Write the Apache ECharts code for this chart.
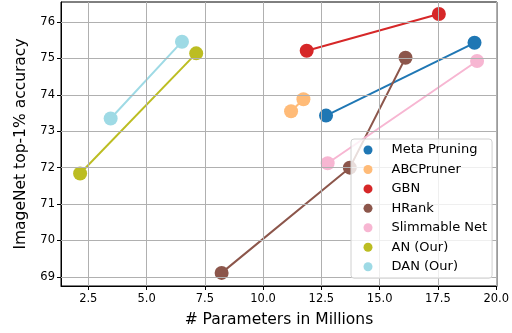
<!DOCTYPE html>
<html><head><meta charset="utf-8">
<script src="https://cdn.jsdelivr.net/npm/echarts@6/dist/echarts.min.js"></script>
<style>html,body{margin:0;padding:0;background:#fff}#c{width:512px;height:333px}</style>
</head><body><div id="c"></div>
<script>
const seriesNames = ['Meta Pruning','ABCPruner','GBN','HRank','Slimmable Net','AN (Our)','DAN (Our)'];
const colors = ['#1f77b4','#ffbb78','#d62728','#8c564b','#f7b6d2','#bcbd22','#9edae5'];
const metaPruning = [[12.70,73.43],[19.07,75.43]];
const abcPruner = [[11.20,73.55],[11.73,73.88]];
const gbn = [[11.87,75.21],[17.54,76.22]];
const hrank = [[8.22,69.11],[13.72,72.0],[16.11,75.02]];
const slimmable = [[12.77,72.12],[19.18,74.93]];
const an = [[2.15,71.84],[7.13,75.14]];
const dan = [[3.46,73.35],[6.52,75.46]];
const xTicks = [2.5,5.0,7.5,10.0,12.5,15.0,17.5,20.0];
const yTicks = [69,70,71,72,73,74,75,76];
const allData = [metaPruning,abcPruner,gbn,hrank,slimmable,an,dan];

const font = 'DejaVu Sans';
const series = allData.map((d,i)=>({
  name: seriesNames[i], type:'line', data:d, symbol:'circle', symbolSize:14,
  showSymbol:true, z:3,
  itemStyle:{color:colors[i]}, lineStyle:{color:colors[i],width:2},
  emphasis:{disabled:true}, animation:false
}));
series.unshift({
  type:'line', data:[], z:1, silent:true, animation:false,
  markLine:{silent:true, symbol:'none', label:{show:false}, animation:false,
    lineStyle:{color:'#b0b0b0', width:1, type:'solid'},
    emphasis:{disabled:true},
    data: xTicks.map(v=>({xAxis:v})).concat(yTicks.map(v=>({yAxis:v})))
  }
});
const chart = echarts.init(document.getElementById('c'));
chart.setOption({
  animation:false,
  grid:{left:61, right:13, top:2, bottom:47, show:true, borderColor:'#000', borderWidth:1, backgroundColor:'transparent'},
  xAxis:{type:'value', min:1.33, max:20.03,
    name:'# Parameters in Millions', nameLocation:'middle', nameGap:26,
    nameTextStyle:{fontFamily:font, fontSize:15.5, color:'#000'},
    axisLine:{show:true, lineStyle:{color:'#000'}},
    axisTick:{show:true, inside:false, length:4, lineStyle:{color:'#000'}, customValues:xTicks},
    axisLabel:{fontFamily:font, fontSize:11.5, color:'#000', margin:7, customValues:xTicks, formatter:v=>v.toFixed(1)},
    splitLine:{show:false}
  },
  yAxis:{type:'value', min:68.75, max:76.55,
    name:'ImageNet top-1% accuracy', nameLocation:'middle', nameGap:32,
    nameTextStyle:{fontFamily:font, fontSize:15.5, color:'#000'},
    axisLine:{show:true, lineStyle:{color:'#000'}},
    axisTick:{show:true, inside:false, length:4, lineStyle:{color:'#000'}, customValues:yTicks},
    axisLabel:{fontFamily:font, fontSize:11.5, color:'#000', margin:6, customValues:yTicks, formatter:v=>String(v)},
    splitLine:{show:false}
  },
  legend:{data:seriesNames, orient:'vertical', left:351, top:139, align:'left',
    icon:'path://M0,4.5a4.5,4.5 0 1,0 9,0a4.5,4.5 0 1,0 -9,0zM23,4.5L23,4.5',
    itemWidth:23, itemHeight:9, itemGap:6.45,
    padding:[4.5,5,5,12.5],
    backgroundColor:'rgba(255,255,255,0.8)', borderColor:'#d0d0d0', borderWidth:1, borderRadius:3,
    textStyle:{fontFamily:font, fontSize:13, color:'#000', width:98, overflow:'none', align:'left'},
    z:10
  },
  series: series
});
</script></body></html>
